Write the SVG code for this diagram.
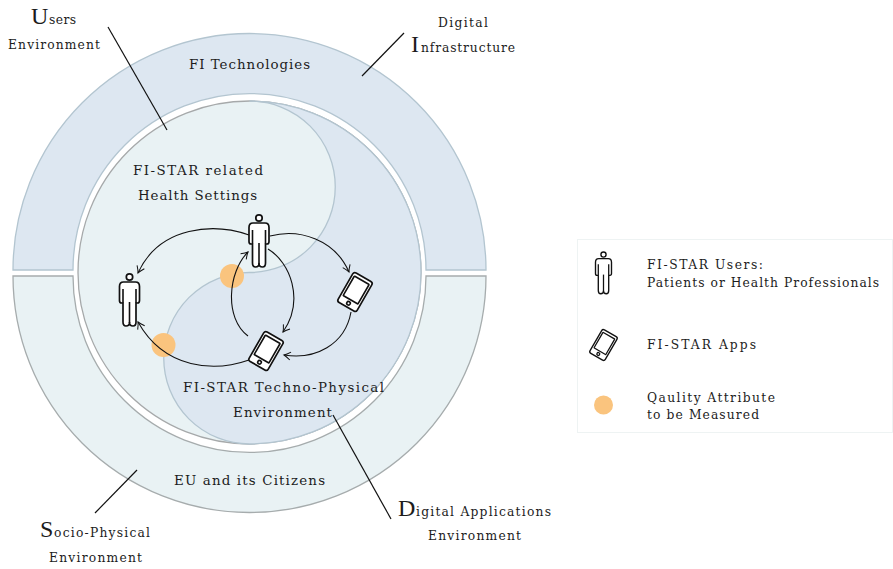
<svg xmlns="http://www.w3.org/2000/svg" width="893" height="569" viewBox="0 0 893 569">
<style>
text{font-family:"DejaVu Serif","Liberation Serif",serif;fill:#1c1c1c;font-size:13.4px}
.sm{font-size:12.3px}
.big{font-family:"Liberation Serif","DejaVu Serif",serif;font-size:24px}
.conn{fill:none;stroke:#111;stroke-width:1.1}
.lead{fill:none;stroke:#111;stroke-width:1.2}
.dot{fill:#fac47e}
.ic{fill:#fff;stroke:#111;stroke-width:1.700;stroke-linejoin:round}
.icl{fill:none;stroke:#111;stroke-width:1.600}
</style>
<defs>
<marker id="ah" viewBox="-8 -5 10 10" refX="0" refY="0" markerWidth="10" markerHeight="10" markerUnits="userSpaceOnUse" orient="auto">
<path d="M-6.500,-4 Q-2.500,-1 0,0 Q-2.500,1 -6.500,4" fill="none" stroke="#111" stroke-width="1"/>
</marker>
<g id="person">
<circle class="ic" cx="0" cy="-23" r="3.200"/>
<path class="ic" d="M-6,-18 H6 Q10,-18 10,-13.500 V0.500 Q10,3 8,3 H6.500 V22 Q6.500,26 3.500,26 Q0,26 0,22.500 Q0,26 -3.500,26 Q-6.500,26 -6.500,22 V3 H-8 Q-10,3 -10,0.500 V-13.500 Q-10,-18 -6,-18 Z"/>
<path class="icl" d="M-6.500,-11 V3 M6.500,-11 V3" stroke-width="2"/>
<path class="icl" d="M0,2 V23" stroke-width="2.200"/>
</g>
<g id="phone">
<rect class="ic" x="-11" y="-17" width="22" height="34" rx="2.500"/>
<rect class="icl" x="-8.500" y="-13.500" width="17" height="22.500" rx="0.500"/>
<circle class="icl" cx="0" cy="13" r="1.800"/>
</g>
</defs>

<g id="outer-rings">
<path id="ring-top" d="M13,270 A236.500,236.500 0 0 1 486,270 H426 A176.500,176.500 0 0 0 73,270 Z" fill="#dde7f1" stroke="#b3c5d0" stroke-width="1.300"/>
<path id="ring-bottom" d="M13,276 A236.500,236.500 0 0 0 486,276 H426 A176.500,176.500 0 0 1 73,276 Z" fill="#e9f2f4" stroke="#a6acad" stroke-width="1.300"/>
</g>
<g id="inner-circle">
<circle cx="249.500" cy="272.500" r="171.500" fill="#e9f2f4" stroke="#a6a9aa" stroke-width="1.300"/>
<path d="M249.500,101 A171.500,171.500 0 0 1 249.500,444 A85.750,85.750 0 0 1 249.500,272.500 A85.750,85.750 0 0 0 249.500,101 Z" fill="#dde7f1" stroke="#b3c5d0" stroke-width="1.300"/>
</g>

<g id="quality-dots">
<circle class="dot" cx="232" cy="276" r="12"/>
<circle class="dot" cx="163.500" cy="345" r="12"/>
</g>

<g id="leaders">
<path class="lead" d="M108,27 L167,130"/>
<path class="lead" d="M404,33 L362,76"/>
<path class="lead" d="M137,470 L95,513"/>
<path class="lead" d="M333,415 L391,519"/>
</g>

<g id="connectors">
<path class="conn" marker-end="url(#ah)" d="M249,235 C215,223 160,225 138,273"/>
<path class="conn" marker-end="url(#ah)" d="M270,236 C300,228 335,240 349,272"/>
<path class="conn" marker-end="url(#ah)" d="M268,249 C290,262 305,300 283,332"/>
<path class="conn" marker-end="url(#ah)" d="M248,336 C224,318 228,272 248,252"/>
<path class="conn" marker-end="url(#ah)" d="M351,312 C345,345 315,360 284,355"/>
<path class="conn" marker-end="url(#ah)" d="M249,360 C215,372 165,370 138,322"/>
</g>

<g id="user-top"><use href="#person" x="259" y="241"/></g>
<g id="user-left"><use href="#person" x="129.500" y="300"/></g>
<g id="app-right"><use href="#phone" transform="translate(355,292) rotate(30)"/></g>
<g id="app-bottom"><use href="#phone" transform="translate(266,351) rotate(30)"/></g>

<g id="labels">
<text x="189" y="69" textLength="121">FI Technologies</text>
<text x="133" y="175" textLength="130">FI-STAR related</text>
<text x="138" y="200" textLength="119">Health Settings</text>
<text x="183" y="392" textLength="201">FI-STAR Techno-Physical</text>
<text x="233" y="417" textLength="99">Environment</text>
<text x="174" y="485" textLength="151">EU and its Citizens</text>
<text x="31" y="24" class="big">U</text><text x="49" y="24" class="sm" textLength="27">sers</text>
<text x="8" y="49" class="sm" textLength="92">Environment</text>
<text x="438" y="27" class="sm" textLength="50">Digital</text>
<text x="411" y="52" class="big">I</text><text x="421" y="52" class="sm" textLength="94">nfrastructure</text>
<text x="40" y="537" class="big">S</text><text x="54" y="537" class="sm" textLength="96">ocio-Physical</text>
<text x="49" y="562" class="sm" textLength="93">Environment</text>
<text x="398" y="516" class="big">D</text><text x="416" y="516" class="sm" textLength="135">igital Applications</text>
<text x="428" y="540" class="sm" textLength="93">Environment</text>
</g>

<g id="legend">
<rect x="577.500" y="239.500" width="315" height="193" fill="#fff" stroke="#eef3f3" stroke-width="1"/>
<g id="legend-user"><use href="#person" transform="translate(603.500,273) scale(0.8)"/></g>
<g id="legend-app"><use href="#phone" transform="translate(603.500,345) rotate(30) scale(0.8)"/></g>
<g id="legend-dot"><circle class="dot" cx="603.500" cy="405" r="9.500"/></g>
<text x="647" y="269" class="sm" textLength="116">FI-STAR Users:</text>
<text x="647" y="287" class="sm" textLength="232">Patients or Health Professionals</text>
<text x="647" y="349" class="sm" textLength="109">FI-STAR Apps</text>
<text x="647" y="402" class="sm" textLength="128">Qaulity Attribute</text>
<text x="647" y="419" class="sm" textLength="112">to be Measured</text>
</g>
</svg>
